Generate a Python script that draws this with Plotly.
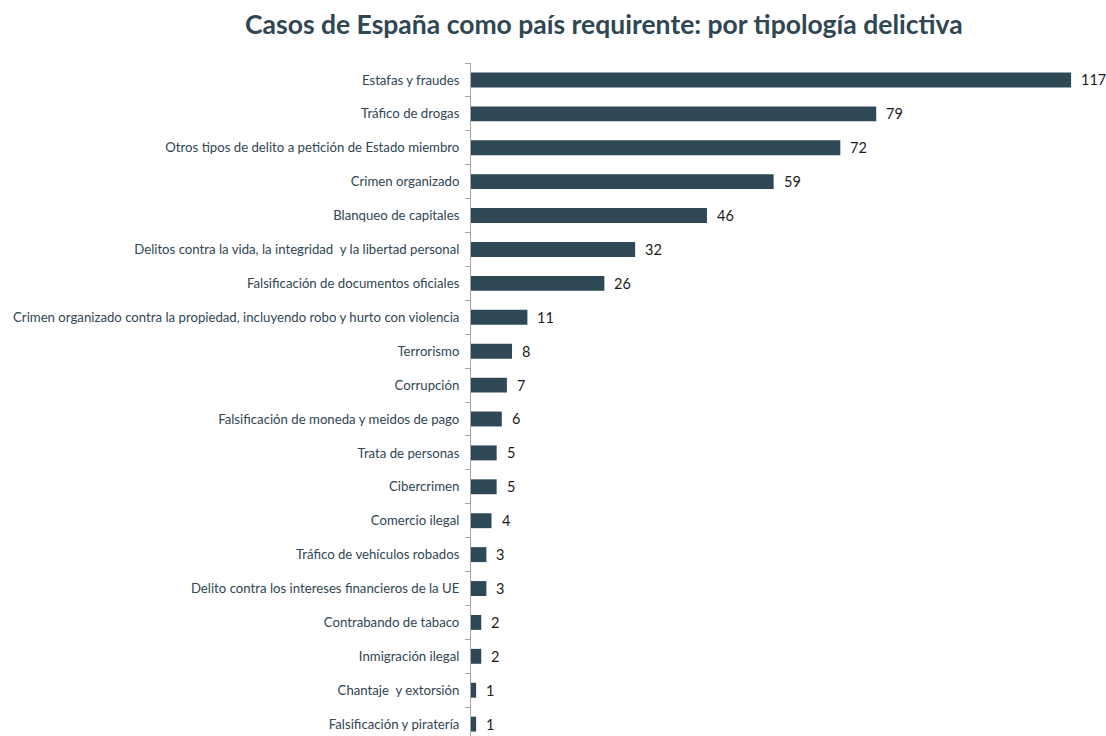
import plotly.graph_objects as go

categories = [
    "Estafas y fraudes",
    "Tráfico de drogas",
    "Otros tipos de delito a petición de Estado miembro",
    "Crimen organizado",
    "Blanqueo de capitales",
    "Delitos contra la vida, la integridad  y la libertad personal",
    "Falsificación de documentos oficiales",
    "Crimen organizado contra la propiedad, incluyendo robo y hurto con violencia",
    "Terrorismo",
    "Corrupción",
    "Falsificación de moneda y meidos de pago",
    "Trata de personas",
    "Cibercrimen",
    "Comercio ilegal",
    "Tráfico de vehículos robados",
    "Delito contra los intereses financieros de la UE",
    "Contrabando de tabaco",
    "Inmigración ilegal",
    "Chantaje  y extorsión",
    "Falsificación y piratería",
]
values = [117, 79, 72, 59, 46, 32, 26, 11, 8, 7, 6, 5, 5, 4, 3, 3, 2, 2, 1, 1]
title = "Casos de España como país requirente: por tipología delictiva"

BAR = "#2E4955"
TXT = "#2F4653"
FONT = "Lato, Open Sans, sans-serif"

fig = go.Figure()
fig.add_trace(go.Bar(
    x=values, y=categories, orientation="h",
    marker=dict(color=BAR, line=dict(width=0)),
    width=0.44,
    hoverinfo="x+y",
))

for c, v in zip(categories, values):
    fig.add_annotation(x=v, y=c, text=str(v), showarrow=False,
                       xanchor="left", yanchor="middle", xshift=8,
                       font=dict(family=FONT, size=14.5, color="#1a1a1a"))

fig.update_layout(
    width=1106, height=736,
    paper_bgcolor="white", plot_bgcolor="white",
    margin=dict(l=471, r=0, t=63, b=0, autoexpand=False),
    showlegend=False,
    bargap=0.55,
    title=dict(text="<b>" + title + "</b>", x=0.546, xanchor="center",
               y=1 - 25 / 736, yanchor="middle", yref="container",
               automargin=False,
               font=dict(family=FONT, size=26.5, color=TXT)),
    xaxis=dict(range=[0, 123.8], visible=False, showgrid=False, zeroline=False,
               automargin=False),
    yaxis=dict(type="category", range=[19.35, -0.5], autorange=False,
               automargin=False,
               showline=True, linecolor="#A6A6A6", linewidth=1,
               ticks="outside", ticklen=5, tickcolor="#A6A6A6",
               tickson="boundaries", showgrid=False,
               ticklabelstandoff=8,
               tickfont=dict(family=FONT, size=13.2, color=TXT)),
)

fig.write_html("out.html", config={"displayModeBar": False},
               post_script="document.body.style.margin='0';document.body.style.overflow='hidden';")
